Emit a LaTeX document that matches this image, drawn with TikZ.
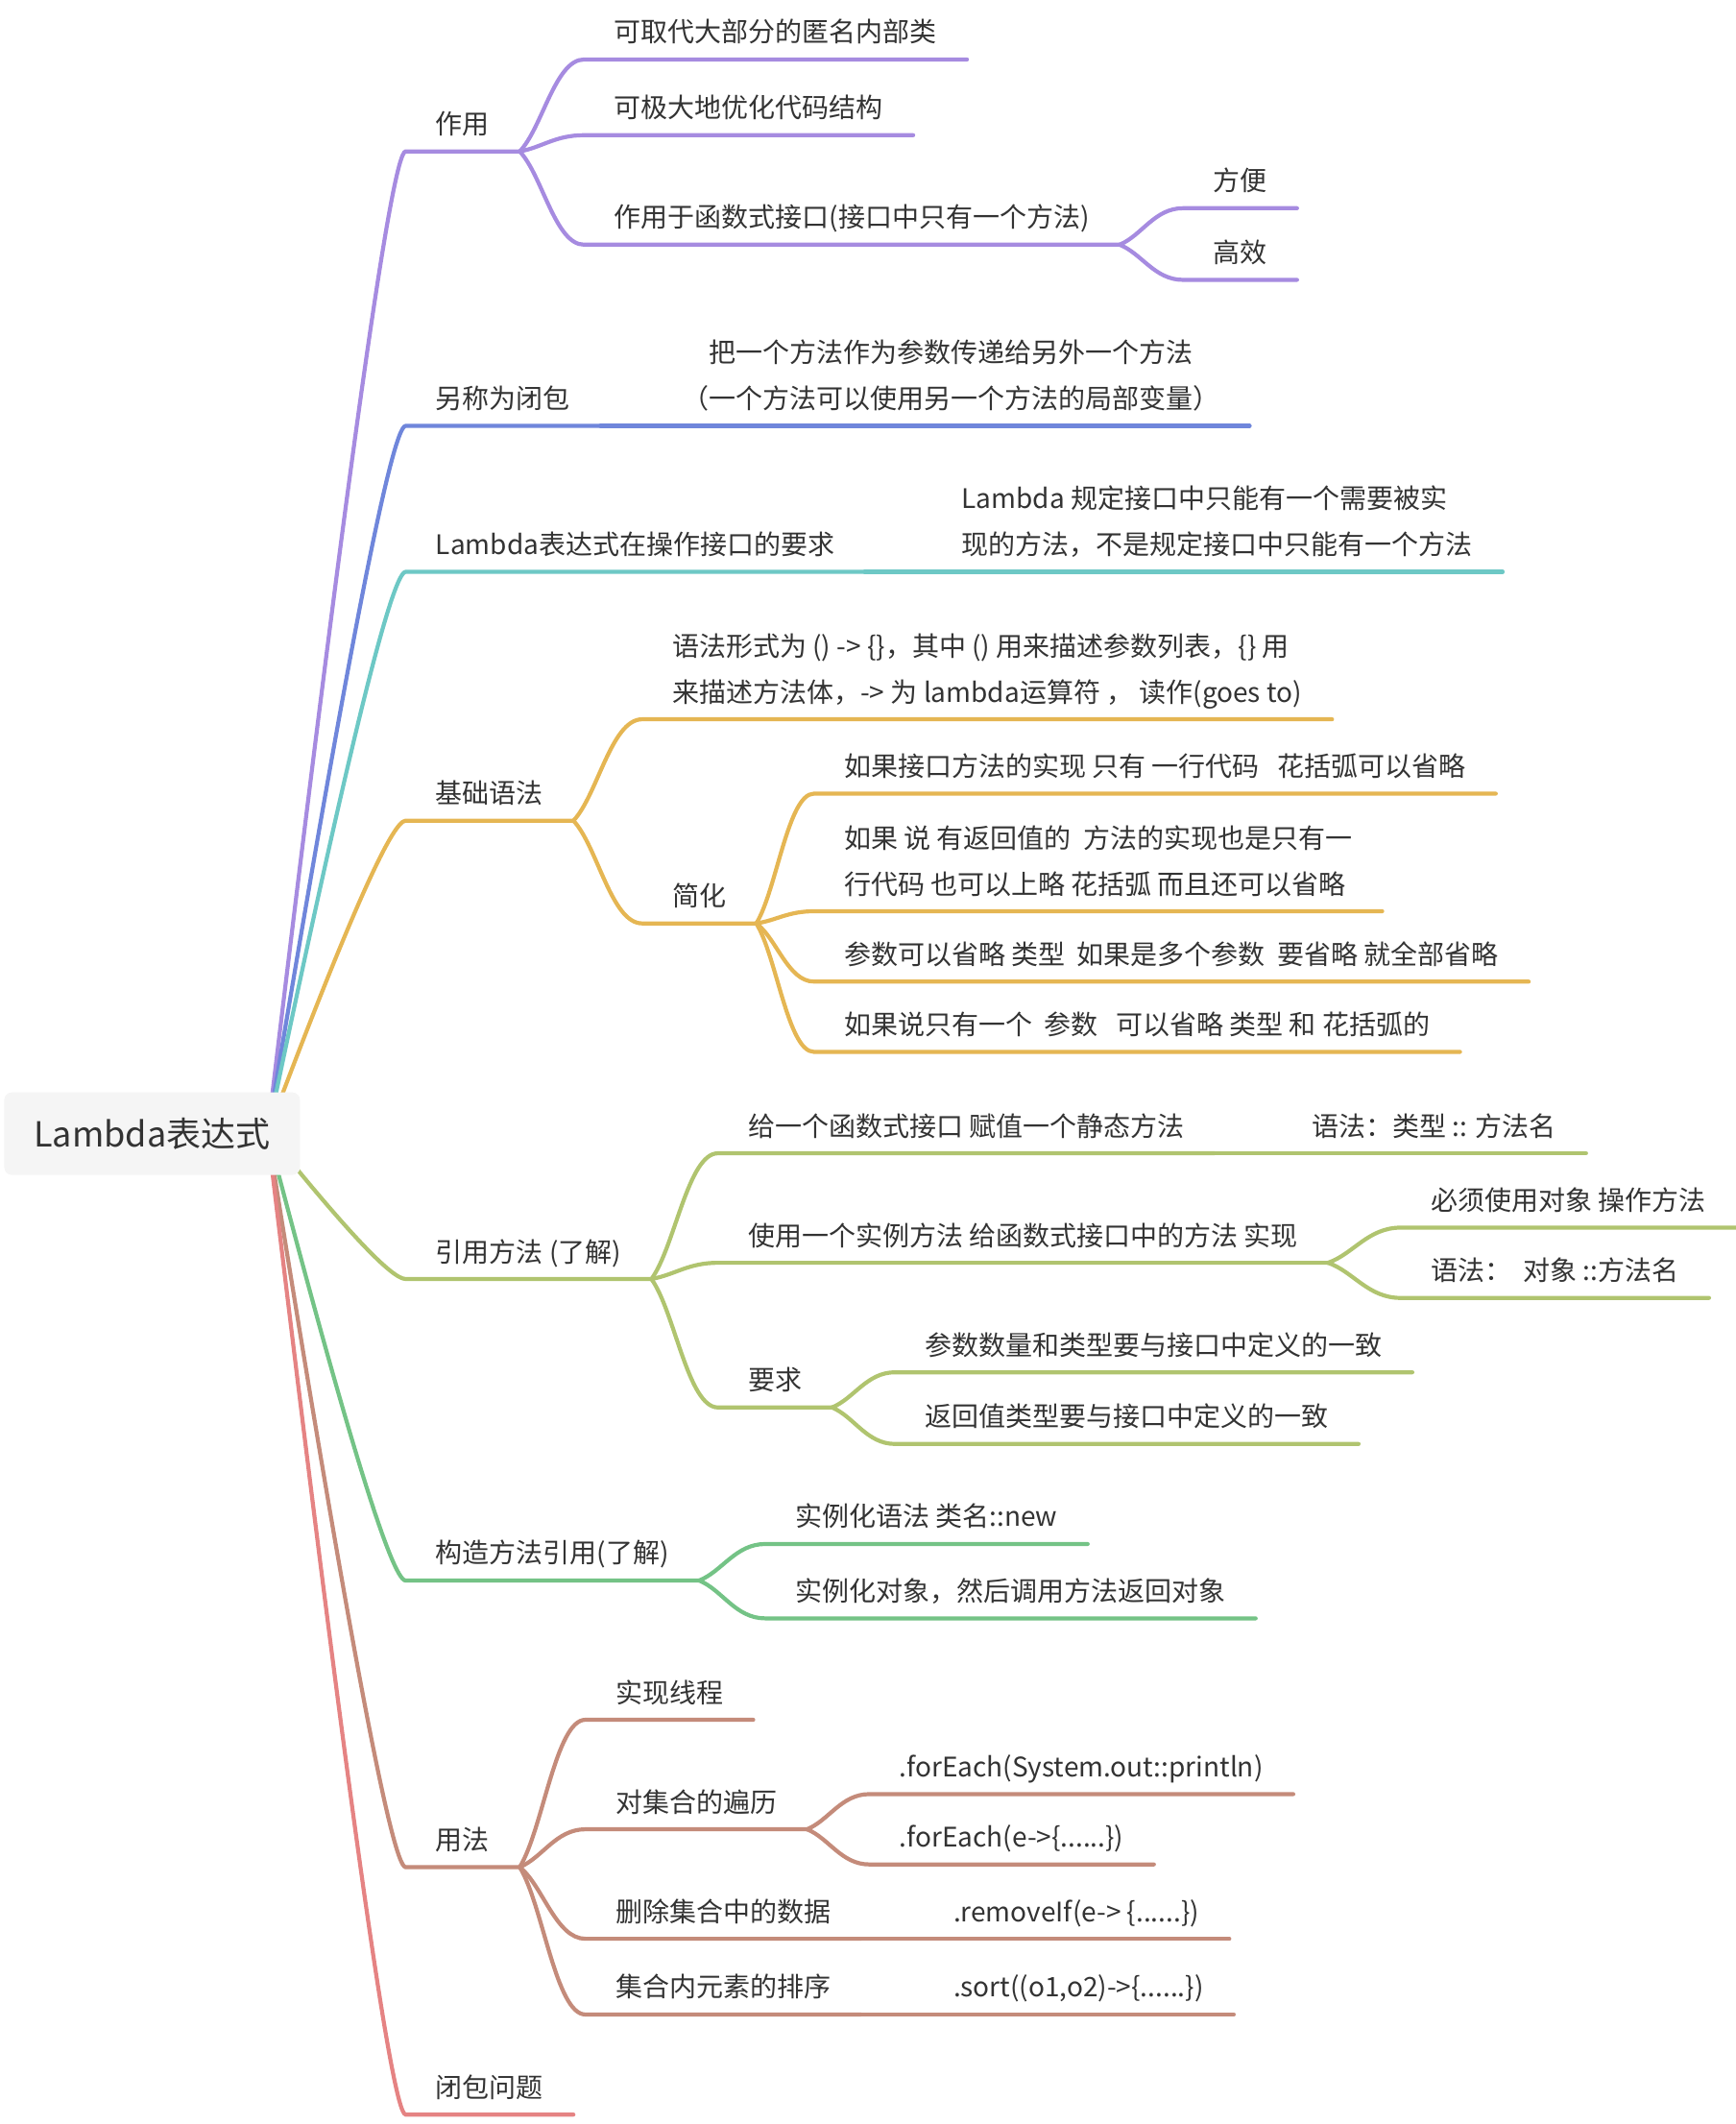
\documentclass[tikz,border=0pt]{standalone}
\usepackage{fontspec}
\setmainfont{Noto Sans CJK SC}
\usepackage{tikz}
\usetikzlibrary{calc, backgrounds}
\definecolor{mind-text}{HTML}{333333}
\definecolor{mind-rootfill}{HTML}{F5F5F5}
\definecolor{c-zy}{HTML}{A68BE0}
\definecolor{c-bc}{HTML}{6F86DB}
\definecolor{c-yq}{HTML}{6DC8C5}
\definecolor{c-jc}{HTML}{E5B653}
\definecolor{c-yy}{HTML}{B0C46F}
\definecolor{c-gz}{HTML}{74C386}
\definecolor{c-yf}{HTML}{C48B7A}
\definecolor{c-bb}{HTML}{E58383}
\tikzset{mind-line/.style={line width=2.1pt, line cap=round}}
\tikzset{mind-topic/.style={anchor=south west, inner xsep=15.5pt, inner ysep=5.3pt,
        font=\fontsize{14}{24}\selectfont, text=mind-text,
        execute at end node={\rule[-3.5pt]{0pt}{3.5pt}}}}
\tikzset{mind-root/.style={fill=mind-rootfill, rounded corners=4pt, minimum width=154pt,
        minimum height=43pt, font=\fontsize{18}{22}\selectfont, text=mind-text}}
% long branches out of the centre
\tikzset{bough/.style={to path={let \p1=(\tikztostart), \p2=(\tikztotarget) in
        .. controls ({\x1+0.567*(\x2-\x1)},{\y1+0.667*(\y2-\y1)}) and ({\x2-0.1*(\x2-\x1)},\y2) .. (\tikztotarget)}}}
% short s-shaped forks
\tikzset{twig/.style={to path={let \p1=(\tikztostart), \p2=(\tikztotarget) in
        .. controls ({\x1+0.35*(\x2-\x1)},{\y1+0.25*(\y2-\y1)}) and ({\x1+0.55*(\x2-\x1)},\y2) .. (\tikztotarget)}}}

\begin{document}
\begin{tikzpicture}[x=0.704pt, y=-0.704pt]
            \useasboundingbox (0,0) rectangle (1284,1571);

            % centre
            \node[mind-root] (root) at (112.5,838.5) {Lambda表达式};
            \coordinate (hub) at (198,838);

            % first level
            \node[mind-topic] (zy) at (300,112) {作用};
            \node[mind-topic] (bc) at (300,315) {另称为闭包};
            \node[mind-topic] (yq) at (300,423) {Lambda表达式在操作接口的要求};
            \node[mind-topic] (jc) at (300,607) {基础语法};
            \node[mind-topic] (yy) at (300,946) {引用方法 (了解)};
            \node[mind-topic] (gz) at (300,1169) {构造方法引用(了解)};
            \node[mind-topic] (yf) at (300,1381) {用法};
            \node[mind-topic] (bb) at (300,1564) {闭包问题};

            % 作用
            \node[mind-topic] (zy1) at (432,44) {可取代大部分的匿名内部类};
            \node[mind-topic] (zy2) at (432,100) {可极大地优化代码结构};
            \node[mind-topic] (zy3) at (432,181) {作用于函数式接口(接口中只有一个方法)};
            \node[mind-topic] (zy3a) at (875,154) {方便};
            \node[mind-topic] (zy3b) at (875,207) {高效};

            % 另称为闭包
            \node[mind-topic, align=center] (bc1) at (482,315)
                {把一个方法作为参数传递给另外一个方法\\（一个方法可以使用另一个方法的局部变量）};

            % 要求
            \node[mind-topic, align=left] (yq1) at (689,423)
                {Lambda 规定接口中只能有一个需要被实\\现的方法，不是规定接口中只能有一个方法};

            % 基础语法
            \node[mind-topic, align=left] (jc1) at (475,532)
                {语法形式为 () -> \{\}，其中 () 用来描述参数列表，\{\} 用\\来描述方法体，-> 为 lambda运算符 ， 读作(goes to)};
            \node[mind-topic] (jc2) at (475,683) {简化};
            \node[mind-topic] (jc2a) at (602,587) {如果接口方法的实现 只有 一行代码\ \ \ 花括弧可以省略};
            \node[mind-topic, align=left] (jc2b) at (602,674)
                {如果 说 有返回值的\ \ 方法的实现也是只有一\\行代码 也可以上略 花括弧 而且还可以省略};
            \node[mind-topic] (jc2c) at (602,726) {参数可以省略 类型\ \ 如果是多个参数\ \ 要省略 就全部省略};
            \node[mind-topic] (jc2d) at (602,778) {如果说只有一个\ \ 参数\ \ \ 可以省略 类型 和 花括弧的};

            % 引用方法
            \node[mind-topic] (yy1) at (531,853) {给一个函数式接口 赋值一个静态方法};
            \node[mind-topic] (yy1a) at (948,853) {语法：类型 :: 方法名};
            \node[mind-topic] (yy2) at (531,934) {使用一个实例方法 给函数式接口中的方法 实现};
            \node[mind-topic] (yy2a) at (1036,908) {必须使用对象 操作方法};
            \node[mind-topic] (yy2b) at (1036,960) {语法：\ \ 对象 ::方法名};
            \node[mind-topic] (yy3) at (531,1041) {要求};
            \node[mind-topic] (yy3a) at (662,1015) {参数数量和类型要与接口中定义的一致};
            \node[mind-topic] (yy3b) at (662,1068) {返回值类型要与接口中定义的一致};

            % 构造方法引用
            \node[mind-topic] (gz1) at (566,1142) {实例化语法 类名::new};
            \node[mind-topic] (gz2) at (566,1197) {实例化对象，然后调用方法返回对象};

            % 用法
            \node[mind-topic] (yf1) at (433,1272) {实现线程};
            \node[mind-topic] (yf2) at (433,1353) {对集合的遍历};
            \node[mind-topic] (yf2a) at (643,1327) {.forEach(System.out::println)};
            \node[mind-topic] (yf2b) at (643,1379) {.forEach(e->\{......\})};
            \node[mind-topic] (yf3) at (433,1434) {删除集合中的数据};
            \node[mind-topic] (yf3a) at (683,1434) {.removeIf(e-> \{......\})};
            \node[mind-topic] (yf4) at (433,1490) {集合内元素的排序};
            \node[mind-topic] (yf4a) at (683,1490) {.sort((o1,o2)->\{......\})};

            \begin{scope}[on background layer]
            \draw[mind-line, c-zy] (hub) to[bough] (zy.south west) -- (zy.south east);
            \draw[mind-line, c-bc] (hub) to[bough] (bc.south west) -- (bc.south east);
            \draw[mind-line, c-yq] (hub) to[bough] (yq.south west) -- (yq.south east);
            \draw[mind-line, c-jc] (hub) to[bough] (jc.south west) -- (jc.south east);
            \draw[mind-line, c-yy] (hub) to[bough] (yy.south west) -- (yy.south east);
            \draw[mind-line, c-gz] (hub) to[bough] (gz.south west) -- (gz.south east);
            \draw[mind-line, c-yf] (hub) to[bough] (yf.south west) -- (yf.south east);
            \draw[mind-line, c-bb] (hub) to[bough] (bb.south west) -- (bb.south east);
            \end{scope}

            \draw[mind-line, c-zy] (zy.south east) to[twig] (zy1.south west) -- (zy1.south east);
            \draw[mind-line, c-zy] (zy.south east) to[twig] (zy2.south west) -- (zy2.south east);
            \draw[mind-line, c-zy] (zy.south east) to[twig] (zy3.south west) -- (zy3.south east);
            \draw[mind-line, c-zy] (zy3.south east) to[twig] (zy3a.south west) -- (zy3a.south east);
            \draw[mind-line, c-zy] (zy3.south east) to[twig] (zy3b.south west) -- (zy3b.south east);

            \draw[mind-line, c-bc] (bc.south east) -- (bc1.south west) -- (bc1.south east);
            \draw[mind-line, c-yq] (yq.south east) -- (yq1.south west) -- (yq1.south east);

            \draw[mind-line, c-jc] (jc.south east) to[twig] (jc1.south west) -- (jc1.south east);
            \draw[mind-line, c-jc] (jc.south east) to[twig] (jc2.south west) -- (jc2.south east);
            \foreach \kid in {jc2a, jc2b, jc2c, jc2d}
                \draw[mind-line, c-jc] (jc2.south east) to[twig] (\kid.south west) -- (\kid.south east);

            \draw[mind-line, c-yy] (yy.south east) to[twig] (yy1.south west) -- (yy1.south east);
            \draw[mind-line, c-yy] (yy1.south east) -- (yy1a.south west) -- (yy1a.south east);
            \draw[mind-line, c-yy] (yy.south east) to[twig] (yy2.south west) -- (yy2.south east);
            \draw[mind-line, c-yy] (yy2.south east) to[twig] (yy2a.south west) -- (yy2a.south east);
            \draw[mind-line, c-yy] (yy2.south east) to[twig] (yy2b.south west) -- (yy2b.south east);
            \draw[mind-line, c-yy] (yy.south east) to[twig] (yy3.south west) -- (yy3.south east);
            \draw[mind-line, c-yy] (yy3.south east) to[twig] (yy3a.south west) -- (yy3a.south east);
            \draw[mind-line, c-yy] (yy3.south east) to[twig] (yy3b.south west) -- (yy3b.south east);

            \draw[mind-line, c-gz] (gz.south east) to[twig] (gz1.south west) -- (gz1.south east);
            \draw[mind-line, c-gz] (gz.south east) to[twig] (gz2.south west) -- (gz2.south east);

            \foreach \kid in {yf1, yf2, yf3, yf4}
                \draw[mind-line, c-yf] (yf.south east) to[twig] (\kid.south west) -- (\kid.south east);
            \draw[mind-line, c-yf] (yf2.south east) to[twig] (yf2a.south west) -- (yf2a.south east);
            \draw[mind-line, c-yf] (yf2.south east) to[twig] (yf2b.south west) -- (yf2b.south east);
            \draw[mind-line, c-yf] (yf3.south east) -- (yf3a.south west) -- (yf3a.south east);
            \draw[mind-line, c-yf] (yf4.south east) -- (yf4a.south west) -- (yf4a.south east);

        \end{tikzpicture}
\end{document}
